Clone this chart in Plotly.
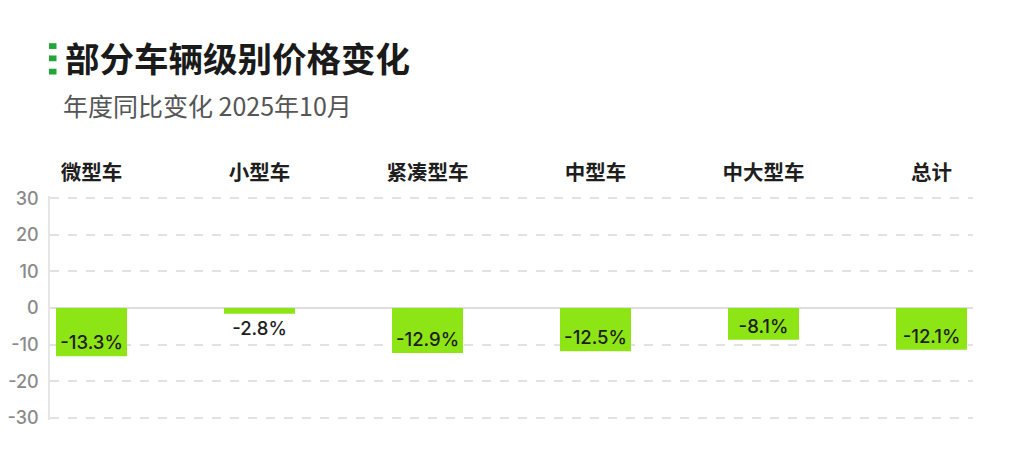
import plotly.graph_objects as go

# ---- data ----
categories = ["微型车", "小型车", "紧凑型车", "中型车", "中大型车", "总计"]
bar_values = [-13.2, -1.6, -12.3, -11.8, -8.7, -11.4]   # bar lengths as drawn
value_labels = ["-13.3%", "-2.8%", "-12.9%", "-12.5%", "-8.1%", "-12.1%"]
y_ticks = [-30, -20, -10, 0, 10, 20, 30]
y_ticktext = ["-30", "-20", "-10", "0", "10", "20", "30"]

title_text = "部分车辆级别价格变化"
subtitle_text = "年度同比变化 2025年10月"

# ---- layout geometry (pixels, page coordinates; page has an 8px body margin) ----
OFF = 8
YPAD = 0.6                      # extra axis range beyond ±30 so edge gridlines render
PXU = 220 / 60                  # pixels per y unit
W, H = 1024 - OFF, 472 - OFF
L, R = 50 - OFF, 51
T = 198 - OFF - YPAD * PXU
B = 54 - YPAD * PXU
PW, PH = W - L - R, H - T - B


def px_x(x):
    return (x - OFF - L) / PW


def px_y(y):
    return (H - B - (y - OFF)) / PH


fig = go.Figure()
fig.add_trace(go.Bar(
    x=categories,
    y=bar_values,
    width=0.4226,
    marker=dict(color="#8ee516", line=dict(width=0)),
    text=value_labels,
    texttemplate="%{text}",
    textposition="auto",
    constraintext="none",
    insidetextanchor="end",
    insidetextfont=dict(family="Inter, Noto Sans", size=18.5, color="#1e1e1e", weight=500),
    outsidetextfont=dict(family="Inter, Noto Sans", size=18.5, color="#1e1e1e", weight=500),
    cliponaxis=False,
    hoverinfo="skip",
))

shapes = []
for top in [42.7, 55.0, 68.3]:
    shapes.append(dict(
        type="rect", xref="paper", yref="paper",
        x0=px_x(49), x1=px_x(56.5), y0=px_y(top + 5.8), y1=px_y(top),
        fillcolor="#22a63a", line=dict(width=0), layer="above",
    ))

annotations = [
    dict(text=f"<b>{title_text}</b>", xref="paper", yref="paper",
         x=px_x(63), y=px_y(57), xanchor="left", yanchor="middle",
         showarrow=False,
         font=dict(family="Noto Sans CJK SC", size=34.5, color="#1a1a1a")),
    dict(text=subtitle_text, xref="paper", yref="paper",
         x=px_x(61), y=px_y(105), xanchor="left", yanchor="middle",
         showarrow=False,
         font=dict(family="Noto Sans CJK SC, Inter", size=25, color="#555555")),
]

fig.update_layout(
    width=W, height=H,
    margin=dict(l=L, r=R, t=T, b=B, pad=0, autoexpand=False),
    paper_bgcolor="white", plot_bgcolor="white",
    showlegend=False,
    shapes=shapes,
    annotations=annotations,
    xaxis=dict(
        side="top",
        range=[-0.247, 5.247],
        automargin=False,
        showgrid=False, zeroline=False, showline=False,
        ticks="", ticklabelstandoff=int(round(13 - YPAD * PXU)),
        tickfont=dict(family="Noto Sans CJK SC", size=20.5, color="#1e1e1e",
                      weight="bold"),
        fixedrange=True,
    ),
    yaxis=dict(
        range=[-30 - YPAD, 30 + YPAD],
        automargin=False,
        tickvals=y_ticks, ticktext=y_ticktext,
        tickfont=dict(family="Inter, Noto Sans", size=18, color="#8a8a8a", weight=500),
        ticks="", ticklabelstandoff=6,
        showline=True, linecolor="#e6e6e6", linewidth=1.5,
        showgrid=True, gridcolor="#e2e2e2", gridwidth=1.5, griddash="dash",
        zeroline=True, zerolinecolor="#dedede", zerolinewidth=1.5,
        fixedrange=True,
    ),
)

fig.write_html("out.html")
